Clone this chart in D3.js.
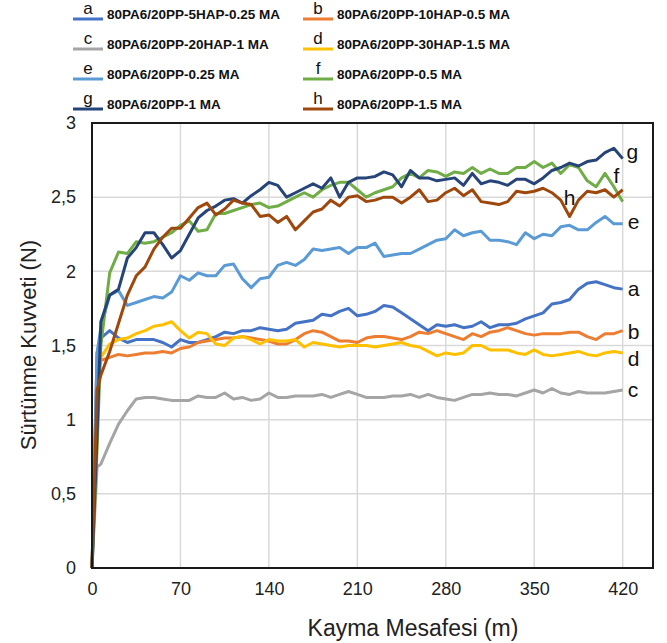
<!DOCTYPE html>
<html>
<meta charset="utf-8">
<script src="https://d3js.org/d3.v7.min.js"></script>
<style>
  body { margin: 0; background: #fff; }
  text { font-family: "Liberation Sans", Arial, sans-serif; }
</style>
<body>
<div id="chart"></div>
<script>
// sliding distance (m)
var distance = [0, 4, 7, 14, 21, 28, 35, 42, 49, 56, 63, 70, 77, 84, 91, 98, 105, 112, 119, 126,
  133, 140, 147, 154, 161, 168, 175, 182, 189, 196, 203, 210, 217, 224, 231, 238, 245, 252, 259, 266,
  273, 280, 287, 294, 301, 308, 315, 322, 329, 336, 343, 350, 357, 364, 371, 378, 385, 392, 399, 406,
  413, 420];

// friction force (N), one array per sample
var serA = [0, 1.45, 1.55, 1.60, 1.55, 1.52, 1.54, 1.54, 1.54, 1.52, 1.49, 1.54, 1.52, 1.52, 1.54, 1.56, 1.59, 1.58, 1.60, 1.60,
  1.62, 1.61, 1.60, 1.61, 1.65, 1.66, 1.67, 1.71, 1.70, 1.73, 1.75, 1.70, 1.71, 1.73, 1.77, 1.76, 1.72, 1.68, 1.64, 1.60,
  1.64, 1.63, 1.64, 1.62, 1.63, 1.66, 1.62, 1.64, 1.64, 1.65, 1.68, 1.70, 1.72, 1.78, 1.79, 1.81, 1.88, 1.92, 1.93, 1.91,
  1.89, 1.88];
var serB = [0, 1.30, 1.40, 1.42, 1.44, 1.43, 1.44, 1.45, 1.45, 1.46, 1.45, 1.48, 1.49, 1.52, 1.53, 1.54, 1.55, 1.55, 1.56, 1.55,
  1.54, 1.53, 1.51, 1.51, 1.54, 1.58, 1.60, 1.59, 1.56, 1.53, 1.53, 1.52, 1.55, 1.56, 1.56, 1.55, 1.54, 1.56, 1.59, 1.58,
  1.60, 1.58, 1.56, 1.54, 1.58, 1.56, 1.59, 1.60, 1.62, 1.60, 1.58, 1.57, 1.58, 1.58, 1.58, 1.59, 1.59, 1.56, 1.54, 1.58,
  1.58, 1.60];
var serC = [0, 0.68, 0.70, 0.84, 0.97, 1.06, 1.14, 1.15, 1.15, 1.14, 1.13, 1.13, 1.13, 1.16, 1.15, 1.15, 1.18, 1.14, 1.15, 1.13,
  1.14, 1.18, 1.15, 1.15, 1.16, 1.16, 1.16, 1.17, 1.15, 1.17, 1.19, 1.17, 1.15, 1.15, 1.15, 1.16, 1.16, 1.17, 1.15, 1.17,
  1.15, 1.14, 1.13, 1.15, 1.17, 1.17, 1.18, 1.17, 1.17, 1.16, 1.18, 1.20, 1.18, 1.21, 1.18, 1.17, 1.19, 1.18, 1.18, 1.18,
  1.19, 1.20];
var serD = [0, 1.30, 1.42, 1.51, 1.54, 1.55, 1.58, 1.60, 1.63, 1.64, 1.66, 1.60, 1.55, 1.59, 1.58, 1.51, 1.50, 1.55, 1.56, 1.54,
  1.51, 1.54, 1.53, 1.53, 1.54, 1.49, 1.52, 1.51, 1.50, 1.49, 1.50, 1.50, 1.50, 1.49, 1.50, 1.51, 1.52, 1.50, 1.49, 1.46,
  1.43, 1.45, 1.44, 1.45, 1.50, 1.50, 1.47, 1.47, 1.47, 1.45, 1.44, 1.47, 1.44, 1.43, 1.44, 1.45, 1.46, 1.44, 1.43, 1.45,
  1.46, 1.45];
var serE = [0, 1.45, 1.62, 1.84, 1.87, 1.77, 1.79, 1.81, 1.83, 1.82, 1.86, 1.97, 1.94, 1.99, 1.97, 1.97, 2.04, 2.05, 1.95, 1.89,
  1.95, 1.96, 2.04, 2.06, 2.04, 2.08, 2.15, 2.14, 2.15, 2.16, 2.12, 2.16, 2.16, 2.19, 2.10, 2.11, 2.12, 2.12, 2.15, 2.18,
  2.21, 2.22, 2.28, 2.24, 2.26, 2.27, 2.21, 2.21, 2.20, 2.18, 2.26, 2.22, 2.25, 2.24, 2.30, 2.31, 2.28, 2.28, 2.33, 2.37,
  2.32, 2.32];
var serF = [0, 0.80, 1.50, 1.99, 2.13, 2.12, 2.20, 2.19, 2.20, 2.23, 2.26, 2.31, 2.34, 2.27, 2.28, 2.39, 2.39, 2.41, 2.43, 2.45,
  2.46, 2.43, 2.44, 2.47, 2.50, 2.53, 2.50, 2.55, 2.58, 2.60, 2.60, 2.55, 2.50, 2.53, 2.55, 2.57, 2.63, 2.66, 2.63, 2.68,
  2.67, 2.64, 2.67, 2.66, 2.70, 2.66, 2.69, 2.66, 2.66, 2.70, 2.70, 2.74, 2.70, 2.73, 2.66, 2.72, 2.70, 2.61, 2.57, 2.66,
  2.57, 2.47];
var serG = [0, 0.90, 1.66, 1.84, 1.88, 2.09, 2.16, 2.26, 2.26, 2.18, 2.09, 2.14, 2.25, 2.36, 2.41, 2.44, 2.48, 2.49, 2.46, 2.51,
  2.55, 2.60, 2.58, 2.50, 2.53, 2.56, 2.59, 2.56, 2.63, 2.50, 2.60, 2.63, 2.63, 2.64, 2.67, 2.65, 2.57, 2.68, 2.63, 2.63,
  2.61, 2.62, 2.63, 2.58, 2.66, 2.59, 2.61, 2.60, 2.58, 2.62, 2.62, 2.59, 2.63, 2.68, 2.70, 2.73, 2.71, 2.74, 2.75, 2.80,
  2.83, 2.76];
var serH = [0, 1.20, 1.30, 1.46, 1.65, 1.84, 1.97, 2.03, 2.15, 2.23, 2.29, 2.29, 2.36, 2.43, 2.46, 2.38, 2.42, 2.48, 2.46, 2.45,
  2.37, 2.38, 2.33, 2.37, 2.28, 2.34, 2.40, 2.42, 2.48, 2.44, 2.50, 2.51, 2.47, 2.48, 2.50, 2.50, 2.46, 2.50, 2.55, 2.47,
  2.48, 2.53, 2.56, 2.51, 2.55, 2.47, 2.46, 2.45, 2.47, 2.54, 2.53, 2.54, 2.56, 2.53, 2.48, 2.37, 2.48, 2.54, 2.53, 2.55,
  2.50, 2.55];

var letters = ["a", "b", "c", "d", "e", "f", "g", "h"];
var names = ["80PA6/20PP-5HAP-0.25 MA", "80PA6/20PP-10HAP-0.5 MA", "80PA6/20PP-20HAP-1 MA",
  "80PA6/20PP-30HAP-1.5 MA", "80PA6/20PP-0.25 MA", "80PA6/20PP-0.5 MA", "80PA6/20PP-1 MA", "80PA6/20PP-1.5 MA"];
var values = [serA, serB, serC, serD, serE, serF, serG, serH];
var xTicks = [0, 70, 140, 210, 280, 350, 420];
var yTicks = [0, 0.5, 1, 1.5, 2, 2.5, 3];

var colors = ["#4472C4", "#ED7D31", "#A5A5A5", "#FFC000", "#5B9BD5", "#70AD47", "#264478", "#9E480E"];

// where the letter tags sit next to the curves (data units)
var tagPos = {
  g: [423, 2.80, "start"], f: [415, 2.64, "middle"], h: [378, 2.49, "middle"], e: [424, 2.33, "start"],
  a: [424, 1.88, "start"], b: [424, 1.59, "start"], d: [424, 1.41, "start"], c: [424, 1.20, "start"]
};

var margin = {top: 123, right: 14, bottom: 75, left: 92},
    width = 667 - margin.left - margin.right,
    height = 643 - margin.top - margin.bottom;

var x = d3.scaleLinear().domain([0, 444]).range([0, width]);
var y = d3.scaleLinear().domain([0, 3]).range([height, 0]);

var root = d3.select("#chart").append("svg")
    .attr("width", 667)
    .attr("height", 643);

var svg = root.append("g")
    .attr("transform", "translate(" + margin.left + "," + margin.top + ")");

// grid
svg.selectAll(".vgrid").data(xTicks).enter().append("line")
    .attr("x1", function(d) { return x(d); })
    .attr("x2", function(d) { return x(d); })
    .attr("y1", 0).attr("y2", height)
    .style("stroke", "#d9d9d9").style("stroke-width", 1.5);

svg.selectAll(".hgrid").data(yTicks).enter().append("line")
    .attr("x1", 0).attr("x2", width)
    .attr("y1", function(d) { return y(d); })
    .attr("y2", function(d) { return y(d); })
    .style("stroke", "#d9d9d9").style("stroke-width", 1.5);

// axes
var fmt = function(d) { return String(d).replace(".", ","); };

var xAxis = svg.append("g")
    .attr("transform", "translate(0," + height + ")")
    .call(d3.axisBottom(x).tickValues(xTicks).tickSize(0).tickPadding(14).tickFormat(fmt));
xAxis.select(".domain").remove();
xAxis.selectAll("text").style("font-size", "18px").style("fill", "#222")
    .style("font-family", "'Liberation Sans', Arial, sans-serif");

var yAxis = svg.append("g")
    .call(d3.axisLeft(y).tickValues(yTicks).tickSize(0).tickPadding(16).tickFormat(fmt));
yAxis.select(".domain").remove();
yAxis.selectAll("text").style("font-size", "18px").style("fill", "#222")
    .style("font-family", "'Liberation Sans', Arial, sans-serif");

// lines
var line = d3.line()
    .x(function(d, i) { return x(distance[i]); })
    .y(function(d) { return y(d); });

values.forEach(function(v, i) {
  svg.append("path")
      .datum(v)
      .attr("d", line)
      .style("fill", "none")
      .style("stroke", colors[i])
      .style("stroke-width", 3)
      .style("stroke-linejoin", "round");
});

// frame
svg.append("rect")
    .attr("width", width).attr("height", height)
    .style("fill", "none").style("stroke", "#1a1a1a").style("stroke-width", 2);

// letter tags
letters.forEach(function(l) {
  var p = tagPos[l];
  svg.append("text")
      .attr("x", x(p[0])).attr("y", y(p[1]))
      .attr("dy", "0.32em")
      .attr("text-anchor", p[2])
      .style("font-size", "21px").style("fill", "#111")
      .text(l);
});

// axis titles
root.append("text")
    .attr("x", 413).attr("y", 636)
    .attr("text-anchor", "middle")
    .style("font-size", "23px").style("fill", "#222")
    .text("Kayma Mesafesi (m)");

root.append("text")
    .attr("transform", "translate(36,345) rotate(-90)")
    .attr("text-anchor", "middle")
    .style("font-size", "22px").style("fill", "#222")
    .text("Sürtünme Kuvveti (N)");

// legend
var legend = root.selectAll(".leg").data(names).enter().append("g")
    .attr("transform", function(d, i) {
      return "translate(" + (i % 2 === 0 ? 73 : 303) + "," + (19 + Math.floor(i / 2) * 30) + ")";
    });

legend.append("line")
    .attr("x1", 0).attr("x2", 30).attr("y1", 0).attr("y2", 0)
    .style("stroke", function(d, i) { return colors[i]; })
    .style("stroke-width", 3);

legend.append("text")
    .attr("x", 15).attr("y", -5)
    .attr("text-anchor", "middle")
    .style("font-size", "17px").style("fill", "#111")
    .text(function(d, i) { return letters[i]; });

legend.append("text")
    .attr("x", 34).attr("y", 0)
    .style("font-size", "13.5px").style("font-weight", "bold").style("fill", "#111")
    .text(function(d) { return d; });
</script>
</body>
</html>
